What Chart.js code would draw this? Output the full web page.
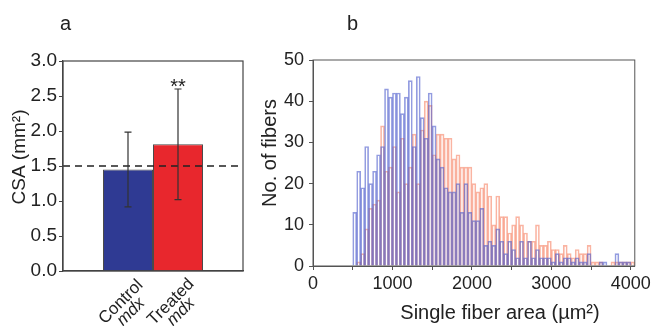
<!DOCTYPE html>
<html>
<head>
<meta charset="utf-8">
<script src="https://cdn.jsdelivr.net/npm/chart.js@4.4.1/dist/chart.umd.min.js"></script>
<style>
  body { margin: 0; background: #fff; }
  #wrap { position: relative; width: 654px; height: 326px; }
  #csaChart { position: absolute; left: 0; top: 0; }
  #histChart { position: absolute; left: 250px; top: 0; }
</style>
</head>
<body>
<div id="wrap">
  <canvas id="csaChart" width="250" height="326"></canvas>
  <canvas id="histChart" width="404" height="326"></canvas>
</div>
<script>
// panel a - cross-sectional area
const groups = ['Control', 'Treated'];
const groupSub = ['mdx', 'mdx'];
const csaMean = [1.45, 1.81];
const csaSd = [0.535, 0.79];
const csaRef = 1.5;
const csaTicks = [0, 0.5, 1.0, 1.5, 2.0, 2.5, 3.0];

// panel b - single fiber area histogram, 50 um2 bins from 500
const binWidth = 50;
const binStart = Array.from({ length: 71 }, (_, i) => 500 + binWidth * i);
const controlCounts = [
  13, 23, 19, 29, 20, 23, 27, 29, 43, 41,
  42, 42, 37, 41, 45, 29, 46, 36, 31, 42,
  34, 26, 24, 19, 18, 18, 20, 13, 20, 13,
  11, 11, 14, 5, 6, 5, 9, 6, 3, 6,
  4, 2, 6, 2, 6, 2, 4, 2, 2, 2,
  1, 3, 1, 2, 2, 1, 2, 1, 1, 3,
  0, 0, 1, 1, 0, 0, 3, 1, 1, 1, 0
];
const treatedCounts = [
  0, 1, 3, 9, 14, 15, 16, 34, 23, 24,
  29, 18, 31, 20, 24, 32, 20, 33, 40, 39,
  27, 32, 32, 31, 31, 26, 27, 24, 24, 24,
  20, 18, 19, 20, 17, 10, 17, 12, 12, 8,
  10, 12, 10, 8, 6, 6, 10, 5, 5, 6,
  4, 4, 3, 5, 3, 2, 4, 3, 3, 5,
  1, 1, 1, 0, 0, 1, 1, 1, 1, 1, 1
];
const histXTicks = [0, 500, 1000, 1500, 2000, 2500, 3000, 3500, 4000];
const histYTicks = [0, 5, 10, 15, 20, 25, 30, 35, 40, 45, 50];

const FONT = '"Liberation Sans", Arial, sans-serif';
const NARROW = '"Liberation Sans Narrow", "Liberation Sans", Arial, sans-serif';
const INK = '#222';

function vText(ctx, text, x, y, font) {
  ctx.save();
  ctx.translate(x, y);
  ctx.rotate(-Math.PI / 2);
  ctx.font = font;
  ctx.fillStyle = INK;
  ctx.textAlign = 'center';
  ctx.textBaseline = 'middle';
  ctx.fillText(text, 0, 0);
  ctx.restore();
}

const csaExtras = {
  id: 'csaExtras',
  afterDatasetsDraw(chart) {
    const { ctx, chartArea: a, scales: { y } } = chart;
    ctx.save();
    // reference line
    ctx.strokeStyle = '#222';
    ctx.lineWidth = 1.5;
    ctx.setLineDash([7, 5]);
    ctx.beginPath();
    ctx.moveTo(a.left, y.getPixelForValue(csaRef));
    ctx.lineTo(a.right, y.getPixelForValue(csaRef));
    ctx.stroke();
    ctx.setLineDash([]);

    // error bars
    ctx.strokeStyle = '#333';
    ctx.lineWidth = 1.2;
    groups.forEach((g, i) => {
      const bx = chart.getDatasetMeta(i).data[0].x;
      const top = y.getPixelForValue(csaMean[i] + csaSd[i]);
      const bot = y.getPixelForValue(csaMean[i] - csaSd[i]);
      ctx.beginPath();
      ctx.moveTo(bx, top); ctx.lineTo(bx, bot);
      ctx.moveTo(bx - 3.5, top); ctx.lineTo(bx + 3.5, top);
      ctx.moveTo(bx - 3.5, bot); ctx.lineTo(bx + 3.5, bot);
      ctx.stroke();
    });

    // significance
    const tx = chart.getDatasetMeta(1).data[0].x;
    ctx.fillStyle = INK;
    ctx.font = '20px ' + FONT;
    ctx.textAlign = 'center';
    ctx.textBaseline = 'alphabetic';
    ctx.fillText('**', tx, y.getPixelForValue(csaMean[1] + csaSd[1]) + 4);

    // frame
    ctx.strokeStyle = '#444';
    ctx.lineWidth = 1.2;
    ctx.strokeRect(a.left, a.top, a.right - a.left, a.bottom - a.top);
    ctx.restore();
  },
  afterDraw(chart) {
    const { ctx } = chart;
    ctx.save();
    ctx.fillStyle = INK;
    groups.forEach((g, i) => {
      const bx = chart.getDatasetMeta(i).data[0].x;
      ctx.save();
      ctx.translate(bx - 7, 302);
      ctx.rotate(-Math.PI / 4);
      ctx.textAlign = 'center';
      ctx.textBaseline = 'middle';
      ctx.font = '17px ' + FONT;
      ctx.fillText(g, 0, 0);
      ctx.font = 'italic 17px ' + FONT;
      ctx.fillText(groupSub[i], 0, 14);
      ctx.restore();
    });
    vText(ctx, 'CSA (mm\u00b2)', 20, 157, '19px ' + FONT);
    ctx.font = '20px ' + FONT;
    ctx.textAlign = 'left';
    ctx.textBaseline = 'alphabetic';
    ctx.fillText('a', 60, 30);
    ctx.restore();
  }
};

new Chart(document.getElementById('csaChart'), {
  type: 'bar',
  data: {
    labels: [''],
    datasets: groups.map((g, i) => ({
      label: g + ' ' + groupSub[i],
      data: [csaMean[i]],
      backgroundColor: ['#2f3a93', '#e8272d'][i],
      borderColor: '#4a4a4a',
      borderWidth: 1,
      categoryPercentage: 100 / 180,
      barPercentage: 1,
    })),
  },
  options: {
    responsive: false,
    animation: false,
    devicePixelRatio: 1,
    layout: { padding: { top: 61, right: 7, left: 0, bottom: 0 } },
    plugins: { legend: { display: false }, tooltip: { enabled: false } },
    scales: {
      x: {
        grid: { display: false },
        ticks: { display: false },
        border: { color: '#444', width: 1.2 },
        afterFit(s) { s.height = 55; },
      },
      y: {
        min: 0,
        max: 3,
        afterBuildTicks(s) { s.ticks = csaTicks.map(v => ({ value: v })); },
        ticks: {
          callback: v => v.toFixed(1),
          font: { family: NARROW, size: 19 },
          color: INK,
          padding: 2,
        },
        grid: { drawOnChartArea: false, tickLength: 4, color: '#444' },
        border: { color: '#444', width: 1.2 },
        afterFit(s) { s.width = 63; },
      },
    },
  },
  plugins: [csaExtras],
});

const histExtras = {
  id: 'histExtras',
  afterDraw(chart) {
    const { ctx, chartArea: a } = chart;
    ctx.save();
    ctx.strokeStyle = '#555';
    ctx.lineWidth = 1;
    ctx.strokeRect(a.left, a.top, a.right - a.left, a.bottom - a.top);
    vText(ctx, 'No. of fibers', 20, 153, '20px ' + FONT);
    ctx.fillStyle = INK;
    ctx.font = '20px ' + FONT;
    ctx.textAlign = 'center';
    ctx.textBaseline = 'middle';
    ctx.fillText('Single fiber area (\u00b5m\u00b2)', 250, 313);
    ctx.textAlign = 'left';
    ctx.textBaseline = 'alphabetic';
    ctx.fillText('b', 97, 30);
    ctx.restore();
  }
};

new Chart(document.getElementById('histChart'), {
  type: 'bar',
  data: {
    datasets: [
      {
        label: 'Control mdx',
        data: binStart.map((b, i) => ({ x: b + binWidth / 2, y: controlCounts[i] })),
        borderColor: 'rgba(80, 95, 205, 0.62)',
        backgroundColor: 'rgba(255,255,255,0)',
        borderWidth: 1,
        order: 0,
      },
      {
        label: 'Treated mdx',
        data: binStart.map((b, i) => ({ x: b + binWidth / 2, y: treatedCounts[i] })),
        borderColor: 'rgba(246, 130, 100, 0.6)',
        backgroundColor: 'rgba(255,255,255,0)',
        borderWidth: 1,
        order: 1,
      },
    ],
  },
  options: {
    responsive: false,
    animation: false,
    devicePixelRatio: 1,
    layout: { padding: { top: 60, right: 14, left: 0, bottom: 0 } },
    datasets: { bar: { grouped: false, barPercentage: 1, categoryPercentage: 1 } },
    plugins: { legend: { display: false }, tooltip: { enabled: false } },
    scales: {
      x: {
        type: 'linear',
        min: 0,
        max: 4050,
        offset: false,
        afterBuildTicks(s) { s.ticks = histXTicks.map(v => ({ value: v })); },
        ticks: {
          callback: v => (v % 1000 === 0 ? String(v) : ''),
          font: { family: FONT, size: 18 },
          color: INK,
          maxRotation: 0,
          autoSkip: false,
          padding: 3,
        },
        grid: { drawOnChartArea: false, tickLength: 4, color: '#555', offset: false },
        border: { color: '#555' },
        afterFit(s) { s.height = 60; },
      },
      y: {
        min: 0,
        max: 50,
        afterBuildTicks(s) { s.ticks = histYTicks.map(v => ({ value: v })); },
        ticks: {
          callback: v => (v % 10 === 0 ? String(v) : ''),
          font: { family: FONT, size: 18 },
          color: INK,
          padding: 5,
        },
        grid: { drawOnChartArea: false, tickLength: 4, color: '#555' },
        border: { color: '#555' },
        afterFit(s) { s.width = 63; },
      },
    },
  },
  plugins: [histExtras],
});
</script>
</body>
</html>
